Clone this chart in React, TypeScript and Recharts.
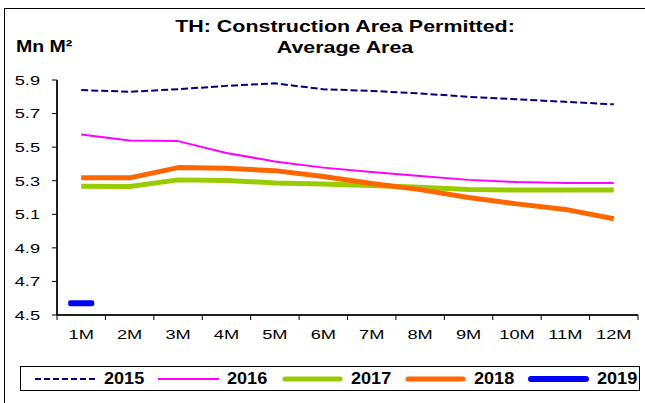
import { LineChart, Line, XAxis, YAxis, ReferenceLine } from "recharts";

const months = ["1M", "2M", "3M", "4M", "5M", "6M", "7M", "8M", "9M", "10M", "11M", "12M"];
const yTicks = [4.5, 4.7, 4.9, 5.1, 5.3, 5.5, 5.7, 5.9];

const y2015 = [5.84, 5.83, 5.845, 5.865, 5.88, 5.845, 5.835, 5.82, 5.8, 5.785, 5.77, 5.755];
const y2016 = [5.575, 5.54, 5.536, 5.465, 5.415, 5.378, 5.352, 5.328, 5.305, 5.292, 5.286, 5.286];
const y2017 = [5.267, 5.265, 5.305, 5.302, 5.287, 5.281, 5.271, 5.261, 5.248, 5.244, 5.244, 5.245];
const y2018 = [5.317, 5.317, 5.378, 5.374, 5.36, 5.325, 5.283, 5.247, 5.2, 5.162, 5.129, 5.073];
const y2019 = [4.57];

const FONT = '"Liberation Sans", Arial, sans-serif';
const TICK_SX = 1.35;

const W = 645;
const H = 403;
const MARGIN = { top: 80, right: 7, bottom: 0, left: 0 };
const Y_W = 57;
const X_H = 88;
const BAND = (W - MARGIN.right - MARGIN.left - Y_W) / months.length;
const Y_STEP = (H - MARGIN.top - X_H) / (yTicks.length - 1);

const series = [
  { key: "2015", values: y2015, color: "#000080", width: 2, dash: "7 3" },
  { key: "2016", values: y2016, color: "#ff00ff", width: 2 },
  { key: "2017", values: y2017, color: "#99cc00", width: 5 },
  { key: "2018", values: y2018, color: "#ff6600", width: 5 },
  { key: "2019", values: y2019, color: "#0000ff", width: 6, dashMarker: true },
];

const data = months.map((_, i) => {
  const row: any = { m: i + 1 };
  series.forEach((s) => {
    row[s.key] = s.values[i] ?? null;
  });
  return row;
});

// labels at category centres, tick marks on the half steps (Excel style)
const xTicks = [0.5, ...months.flatMap((_, i) => [i + 1, i + 1.5])];

const XTick = (props: any) => {
  const { x, y, payload } = props;
  const v = payload.value;
  if (!Number.isInteger(v)) {
    return (
      <g>
        <rect x={x - 0.5} y={y} width={1} height={5} fill="#000" />
        {v < months.length ? <rect x={x} y={y - 0.5} width={BAND} height={1} fill="#000" /> : null}
      </g>
    );
  }
  return (
    <g transform={`translate(${x},${y})`}>
      <text
        transform={`scale(${TICK_SX},1)`}
        textAnchor="middle"
        dy={24}
        fontSize={13.5}
        fontFamily={FONT}
        fill="#000"
      >
        {months[v - 1]}
      </text>
    </g>
  );
};

const YTick = (props: any) => {
  const { x, y, payload } = props;
  const v = payload.value;
  return (
    <g>
      <rect x={x - 5} y={y - 0.5} width={5} height={1} fill="#000" />
      {v > yTicks[0] ? <rect x={x - 0.5} y={y} width={1} height={Y_STEP} fill="#000" /> : null}
      <g transform={`translate(${x - 17},${y})`}>
        <text
          transform={`scale(${TICK_SX},1)`}
          textAnchor="end"
          dy={4.8}
          fontSize={13.5}
          fontFamily={FONT}
          fill="#000"
        >
          {v.toFixed(1)}
        </text>
      </g>
    </g>
  );
};

// Excel "dash" marker for the single 2019 point
const DashMarker = (props: any) => {
  const { cx, cy, value } = props;
  if (value == null || cx == null || cy == null) return <g />;
  return <rect x={cx - 13} y={cy - 3} width={26} height={6} rx={2} fill="#0000ff" />;
};

export default function App() {
  return (
    <div style={{ position: "absolute", left: 0, top: 0, width: W, height: H }}>
      <LineChart width={W} height={H} data={data} margin={MARGIN}>
        <XAxis
          type="number"
          dataKey="m"
          domain={[0.5, 12.5]}
          ticks={xTicks}
          tick={<XTick />}
          tickSize={0}
          tickMargin={0}
          height={X_H}
          stroke="#000"
          tickLine={false}
          interval={0}
        />
        <YAxis
          domain={[4.5, 5.9]}
          ticks={yTicks}
          tick={<YTick />}
          tickSize={0}
          tickMargin={0}
          width={Y_W}
          stroke="#000"
          tickLine={false}
        />
        <ReferenceLine x={0.5} stroke="#000" />
        <ReferenceLine y={4.5} stroke="#000" />
        {series.map((s) => (
          <Line
            key={s.key}
            dataKey={s.key}
            stroke={s.color}
            strokeWidth={s.width}
            strokeDasharray={s.dash}
            strokeLinejoin="round"
            dot={s.dashMarker ? <DashMarker /> : false}
            activeDot={false}
            isAnimationActive={false}
          />
        ))}
      </LineChart>
      <div
        style={{
          position: "absolute",
          left: 4,
          top: 8,
          width: 641,
          height: 395,
          borderLeft: "1px solid #000",
          borderTop: "1px solid #000",
          boxSizing: "border-box",
          pointerEvents: "none",
        }}
      />
      <div
        style={{
          position: "absolute",
          left: 345,
          top: 15.6,
          transform: "translateX(-50%) scaleX(1.26)",
          fontFamily: FONT,
          fontSize: 17,
          lineHeight: "21px",
          fontWeight: "bold",
          textAlign: "center",
          whiteSpace: "nowrap",
          color: "#000",
        }}
      >
        TH: Construction Area Permitted:
        <br />
        Average Area
      </div>
      <div
        style={{
          position: "absolute",
          left: 15.6,
          top: 39.4,
          transform: "scaleX(1.22)",
          transformOrigin: "left",
          fontFamily: FONT,
          fontSize: 16,
          lineHeight: "16px",
          fontWeight: "bold",
          whiteSpace: "nowrap",
          color: "#000",
        }}
      >
        Mn M²
      </div>
      <div
        style={{
          position: "absolute",
          left: 20,
          top: 366,
          width: 620,
          height: 25,
          border: "1px solid #000",
          boxSizing: "border-box",
          display: "flex",
          alignItems: "center",
          paddingLeft: 13,
          fontFamily: FONT,
        }}
      >
        {series.map((s) => (
          <div
            key={s.key}
            style={{ width: 123.3, flex: "none", display: "flex", alignItems: "center" }}
          >
            <svg width={63} height={10}>
              <line
                x1={s.width > 4 ? 4 : 1}
                x2={s.width > 4 ? 59 : 62}
                y1={5}
                y2={5}
                stroke={s.color}
                strokeWidth={s.width}
                strokeDasharray={s.dash ? "6 3" : undefined}
                strokeLinecap={s.width > 4 ? "round" : "butt"}
              />
            </svg>
            <span
              style={{
                display: "inline-block",
                marginLeft: 7,
                fontSize: 16,
                lineHeight: "16px",
                fontWeight: "bold",
                transform: "scaleX(1.13)",
                transformOrigin: "left",
                color: "#000",
              }}
            >
              {s.key}
            </span>
          </div>
        ))}
      </div>
    </div>
  );
}
